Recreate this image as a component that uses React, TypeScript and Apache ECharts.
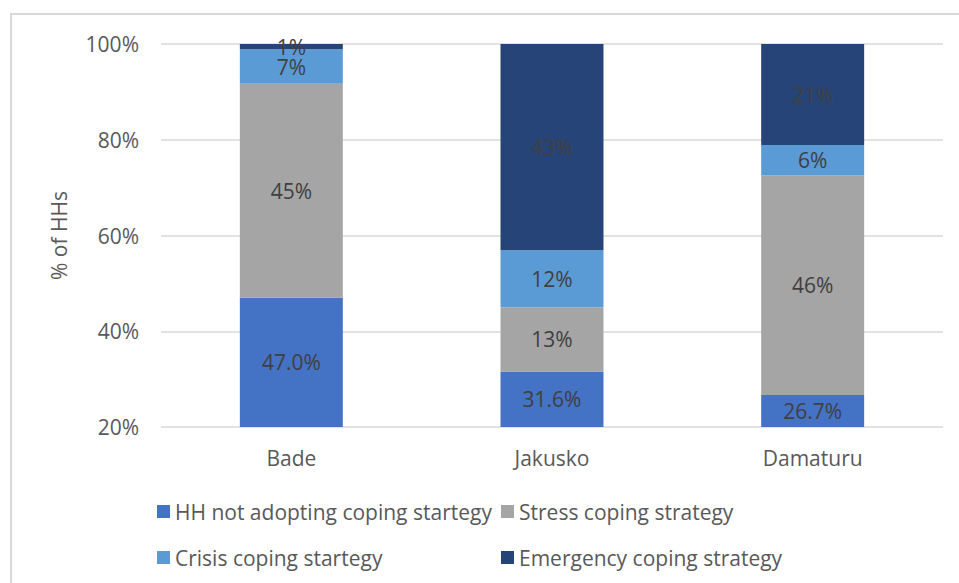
import React, { useEffect, useRef } from "react";
import * as echarts from "echarts";

const categories = ["Bade", "Jakusko", "Damaturu"];
const notAdopting = [47.0, 31.6, 26.7];
const stress = [44.7, 13.4, 45.9];
const crisis = [7.2, 11.9, 6.3];
const emergency = [1.1, 43.1, 21.1];
const seriesNames = [
  "HH not adopting coping startegy",
  "Stress coping strategy",
  "Crisis coping startegy",
  "Emergency coping strategy",
];
const colors = ["#4472C4", "#A5A5A5", "#5B9BD5", "#264478"];

const FONT = "'Open Sans', sans-serif";
const FS = 21;

export default function App() {
  const ref = useRef<HTMLDivElement>(null);
  useEffect(() => {
    if (!ref.current) return;
    const chart = echarts.init(ref.current, null, { renderer: "svg" });
    const datasets = [notAdopting, stress, crisis, emergency];
    const series = datasets.map((d, i) => ({
      name: seriesNames[i],
      type: "bar",
      stack: "total",
      barWidth: "39.5%",
      data: d,
      itemStyle: { color: colors[i] },
      label: {
        show: true,
        position: "inside",
        color: "#404040",
        fontSize: FS,
        fontFamily: FONT,
        formatter: (p: any) =>
          i === 0 ? p.value.toFixed(1) + "%" : Math.round(p.value) + "%",
      },
    }));
    const legendText = { color: "#595959", fontSize: FS, fontFamily: FONT };
    chart.setOption({
      animation: false,
      color: colors,
      graphic: [
        {
          type: "rect",
          shape: { x: 11, y: 14, width: 1000, height: 700 },
          style: { fill: "none", stroke: "#D9D9D9", lineWidth: 2 },
          z: -1,
        },
      ],
      grid: { left: 161, right: 16, top: 44, bottom: 156 },
      legend: [
        {
          data: [seriesNames[0], seriesNames[2]],
          orient: "vertical",
          left: 152,
          top: 496,
          itemWidth: 13,
          itemHeight: 13,
          itemGap: 25,
          icon: "rect",
          textStyle: legendText,
        },
        {
          data: [seriesNames[1], seriesNames[3]],
          orient: "vertical",
          left: 496,
          top: 496,
          itemWidth: 13,
          itemHeight: 13,
          itemGap: 25,
          icon: "rect",
          textStyle: legendText,
        },
      ],
      xAxis: {
        type: "category",
        data: categories,
        axisLine: { show: false },
        axisTick: { show: false },
        axisLabel: { color: "#595959", fontSize: FS, fontFamily: FONT, margin: 20 },
      },
      yAxis: {
        type: "value",
        min: 20,
        max: 100,
        interval: 20,
        name: "% of HHs",
        nameLocation: "middle",
        nameGap: 92,
        nameTextStyle: { color: "#595959", fontSize: FS, fontFamily: FONT },
        axisLabel: {
          formatter: "{value}%",
          color: "#595959",
          fontSize: FS,
          fontFamily: FONT,
          margin: 22,
        },
        splitLine: { lineStyle: { color: "#D9D9D9", width: 1.5 } },
      },
      series,
    });
    return () => chart.dispose();
  }, []);
  return (
    <div
      ref={ref}
      style={{ position: "fixed", left: 0, top: 0, width: 959, height: 583, background: "#fff" }}
    />
  );
}
